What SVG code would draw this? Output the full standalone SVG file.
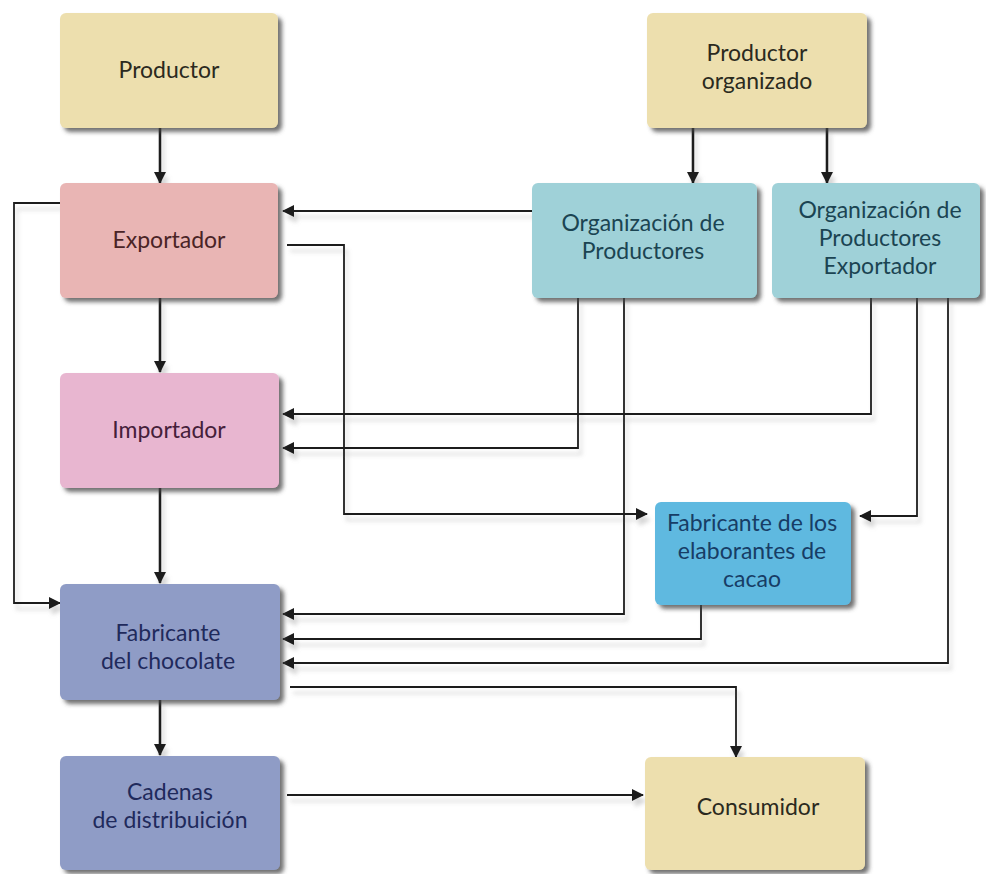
<svg xmlns="http://www.w3.org/2000/svg" width="986" height="874" viewBox="0 0 986 874">
  <defs>
    <filter id="boxShadow" x="-10%" y="-10%" width="125%" height="130%">
      <feDropShadow dx="4" dy="4" stdDeviation="2" flood-color="#444" flood-opacity="0.75"/>
    </filter>
    <filter id="lineShadow" x="-5%" y="-5%" width="115%" height="115%">
      <feDropShadow dx="3" dy="6" stdDeviation="2" flood-color="#888" flood-opacity="0.35"/>
    </filter>
    <marker id="arrow" viewBox="0 0 12 12" refX="11" refY="6" markerWidth="12" markerHeight="12" markerUnits="userSpaceOnUse" orient="auto">
      <path d="M0,0 L12,6 L0,12 z" fill="#1e1e1e"/>
    </marker>
  </defs>
  <style>
    .box { filter: url(#boxShadow); }
    .lbl { font-family: Lato, "Open Sans", "Liberation Sans", sans-serif; font-size: 23px; text-anchor: middle; }
    .beige { fill: #eddfae; }
    .rose { fill: #e9b5b4; }
    .pink { fill: #e8b6d0; }
    .slate { fill: #8f9cc6; }
    .teal { fill: #9fd1d8; }
    .sky { fill: #5fb9e0; }
    .t-beige { fill: #2b2a1e; }
    .t-rose { fill: #4a2426; }
    .t-pink { fill: #45203a; }
    .t-slate { fill: #1f2a5c; }
    .t-teal { fill: #1b4452; }
    .t-sky { fill: #173d66; }
    .conn { fill: none; stroke: #1e1e1e; stroke-width: 1.8; marker-end: url(#arrow); }
    .thick { stroke-width: 2.6; }
  </style>

  <!-- connectors -->
  <g id="connectors" filter="url(#lineShadow)">
    <path class="conn thick" d="M160,128 V183"/>
    <path class="conn thick" d="M160,298 V372"/>
    <path class="conn thick" d="M160,488 V583"/>
    <path class="conn thick" d="M160,700 V755"/>
    <path class="conn thick" d="M693,128 V183"/>
    <path class="conn thick" d="M827,128 V183"/>
    <path class="conn" d="M60,203 H14 V603 H60"/>
    <path class="conn" d="M532,211 H283"/>
    <path class="conn" d="M287,245 H344 V514 H647"/>
    <path class="conn" d="M871,298 V414 H283"/>
    <path class="conn" d="M578,298 V448 H283"/>
    <path class="conn" d="M917,298 V516 H860"/>
    <path class="conn" d="M624,298 V614 H283"/>
    <path class="conn" d="M701,605 V639 H283"/>
    <path class="conn" d="M948,298 V663 H283"/>
    <path class="conn" d="M290,687 H736 V757"/>
    <path class="conn" d="M287,795 H643"/>
  </g>

  <!-- nodes -->
  <g id="productor">
    <rect class="box beige" x="60" y="13" width="218" height="115" rx="6"/>
    <text class="lbl t-beige" x="169" y="78">Productor</text>
  </g>
  <g id="productor-organizado">
    <rect class="box beige" x="647" y="13" width="220" height="115" rx="6"/>
    <text class="lbl t-beige" x="757" y="61">Productor</text>
    <text class="lbl t-beige" x="757" y="89">organizado</text>
  </g>
  <g id="exportador">
    <rect class="box rose" x="60" y="183" width="218" height="115" rx="6"/>
    <text class="lbl t-rose" x="169" y="248">Exportador</text>
  </g>
  <g id="organizacion-productores">
    <rect class="box teal" x="532" y="183" width="225" height="115" rx="6"/>
    <text class="lbl t-teal" x="643" y="231">Organización de</text>
    <text class="lbl t-teal" x="643" y="259">Productores</text>
  </g>
  <g id="organizacion-productores-exportador">
    <rect class="box teal" x="772" y="183" width="208" height="115" rx="6"/>
    <text class="lbl t-teal" x="880" y="218">Organización de</text>
    <text class="lbl t-teal" x="880" y="246">Productores</text>
    <text class="lbl t-teal" x="880" y="274">Exportador</text>
  </g>
  <g id="importador">
    <rect class="box pink" x="60" y="373" width="219" height="115" rx="6"/>
    <text class="lbl t-pink" x="169" y="438">Importador</text>
  </g>
  <g id="fabricante-elaborantes">
    <rect class="box sky" x="655" y="502" width="196" height="103" rx="6"/>
    <text class="lbl t-sky" x="752" y="531">Fabricante de los</text>
    <text class="lbl t-sky" x="752" y="559">elaborantes de</text>
    <text class="lbl t-sky" x="752" y="587">cacao</text>
  </g>
  <g id="fabricante-chocolate">
    <rect class="box slate" x="60" y="584" width="220" height="116" rx="6"/>
    <text class="lbl t-slate" x="168" y="641">Fabricante</text>
    <text class="lbl t-slate" x="168" y="669">del chocolate</text>
  </g>
  <g id="cadenas-distribucion">
    <rect class="box slate" x="60" y="756" width="220" height="114" rx="6"/>
    <text class="lbl t-slate" x="170" y="800">Cadenas</text>
    <text class="lbl t-slate" x="170" y="828">de distribuición</text>
  </g>
  <g id="consumidor">
    <rect class="box beige" x="645" y="757" width="220" height="113" rx="6"/>
    <text class="lbl t-beige" x="758" y="815">Consumidor</text>
  </g>
</svg>
